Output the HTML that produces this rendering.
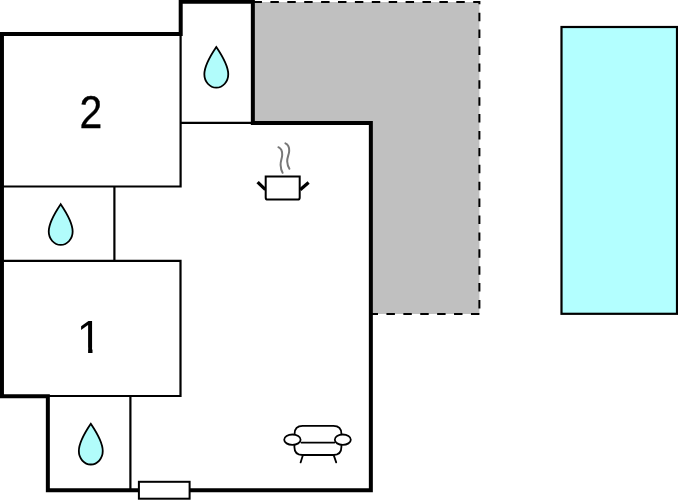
<!DOCTYPE html>
<html>
<head>
<meta charset="utf-8">
<title>Floor plan</title>
<style>
  html, body { margin: 0; padding: 0; background: #ffffff; }
  body { width: 678px; height: 500px; overflow: hidden; }
  svg { display: block; will-change: transform; }
  .num { font-family: "Liberation Sans", sans-serif; font-size: 47px; fill: #000; }
</style>
</head>
<body>
<svg width="678" height="500" viewBox="0 0 678 500">
  <rect x="0" y="0" width="678" height="500" fill="#ffffff"/>

  <!-- terrace (grey) -->
  <polygon points="252.85,2 479.4,2 479.4,313.9 370.85,313.9 370.85,122.9 252.85,122.9" fill="#c0c0c0"/>
  <!-- dashed terrace outline -->
  <path d="M253.5,2 L479.4,2 L479.4,313.9" fill="none" stroke="#000" stroke-width="2" stroke-dasharray="8.45 8.45"/>
  <path d="M479.4,313.9 L370.85,313.9" fill="none" stroke="#000" stroke-width="2" stroke-dasharray="8.45 8.45"/>

  <!-- pool -->
  <rect x="561.5" y="27" width="115.5" height="286.8" fill="#b3ffff" stroke="#000" stroke-width="2.2"/>

  <!-- thin interior lines -->
  <g fill="none" stroke="#000" stroke-width="2.2" stroke-linejoin="miter" stroke-linecap="butt">
    <path d="M180.6,34 L180.6,186.5 L2,186.5"/>
    <path d="M180.6,122.9 L252.85,122.9"/>
    <path d="M114.4,186.5 L114.4,260.9"/>
    <path d="M2,260.9 L180.5,260.9 L180.5,396 L48,396"/>
    <path d="M130.4,396 L130.4,490"/>
  </g>

  <!-- thick outer walls -->
  <path d="M139,490.2 L47.85,490.2 L47.85,396.15 L1.95,396.15 L1.95,33.9 L180.7,33.9 L180.7,1.85 L252.85,1.85 L252.85,122.9 L370.85,122.9 L370.85,490.2 L189.6,490.2"
        fill="none" stroke="#000" stroke-width="4" stroke-linejoin="miter"/>

  <!-- window -->
  <rect x="138.9" y="481.8" width="50.7" height="16.9" fill="#ffffff" stroke="#000" stroke-width="2"/>

  <!-- room numbers -->
  <defs>
    <clipPath id="nofoot">
      <rect x="70" y="310" width="40" height="37.5"/>
      <rect x="88.1" y="347" width="4.4" height="9"/>
    </clipPath>
  </defs>
  <text class="num" transform="translate(79.4,127.8) scale(0.87,1)" stroke="#000" stroke-width="0.35">2</text>
  <g clip-path="url(#nofoot)"><text class="num" transform="translate(76.8,352.8) scale(0.96,1)">1</text></g>

  <!-- water drops -->
  <g fill="#b1fcfb" stroke="#000" stroke-width="1.8" stroke-linejoin="miter">
    <path transform="translate(216.3,47.0)" d="M0,0 C9.15,13.5 11.95,22.7 11.95,27.3 C11.95,34.7 6.6,40.7 0,40.7 C-6.6,40.7 -11.95,34.7 -11.95,27.3 C-11.95,22.7 -9.15,13.5 0,0 Z"/>
    <path transform="translate(60.7,204.2)" d="M0,0 C9.15,13.5 11.95,22.7 11.95,27.3 C11.95,34.7 6.6,40.7 0,40.7 C-6.6,40.7 -11.95,34.7 -11.95,27.3 C-11.95,22.7 -9.15,13.5 0,0 Z"/>
    <path transform="translate(90.8,423.8)" d="M0,0 C9.15,13.5 11.95,22.7 11.95,27.3 C11.95,34.7 6.6,40.7 0,40.7 C-6.6,40.7 -11.95,34.7 -11.95,27.3 C-11.95,22.7 -9.15,13.5 0,0 Z"/>
  </g>

  <!-- cooking pot -->
  <g fill="none" stroke="#000">
    <path d="M278.4,147.2 C281,148.5 282.4,151 282.2,155 C282,159 280.4,161 280.6,165 C280.8,169 281.5,171 282.6,172.8" stroke="#787878" stroke-width="2" stroke-linecap="round"/>
    <path d="M285.4,143.4 C288,144.5 289.4,147 289.2,151 C289,155 287,157 287.2,161.5 C287.4,165 288.3,167 289.4,168.8" stroke="#787878" stroke-width="2" stroke-linecap="round"/>
    <path d="M257.6,182.1 L265.4,189.6" stroke-width="3.3"/>
    <path d="M308.6,182.6 L300.2,189.7" stroke-width="3.3"/>
    <path d="M265.7,176.6 L299.7,176.6 L299.7,197.4 Q299.7,199.6 297.5,199.6 L267.9,199.6 Q265.7,199.6 265.7,197.4 Z" fill="#ffffff" stroke-width="2"/>
  </g>

  <!-- sofa -->
  <g fill="none" stroke="#000" stroke-width="1.8" stroke-linecap="round" stroke-linejoin="round">
    <path d="M294.6,434.5 L294.6,433.8 Q294.6,425.9 302.6,425.9 L333.4,425.9 Q341.4,425.9 341.4,433.8 L341.4,434.5"/>
    <path d="M301.4,442.6 L334.4,442.6"/>
    <path d="M294.4,445.4 L294.4,447 Q294.4,455 302.4,455 L333.4,455 Q341.4,455 341.4,447 L341.4,445.4"/>
    <ellipse cx="292.4" cy="439.7" rx="8.2" ry="5.2" fill="#ffffff"/>
    <ellipse cx="342.8" cy="439.7" rx="8.0" ry="5.2" fill="#ffffff"/>
    <path d="M302.8,455.4 L300.6,462.4"/>
    <path d="M333.8,455.4 L336.2,462.4"/>
  </g>
</svg>
</body>
</html>
